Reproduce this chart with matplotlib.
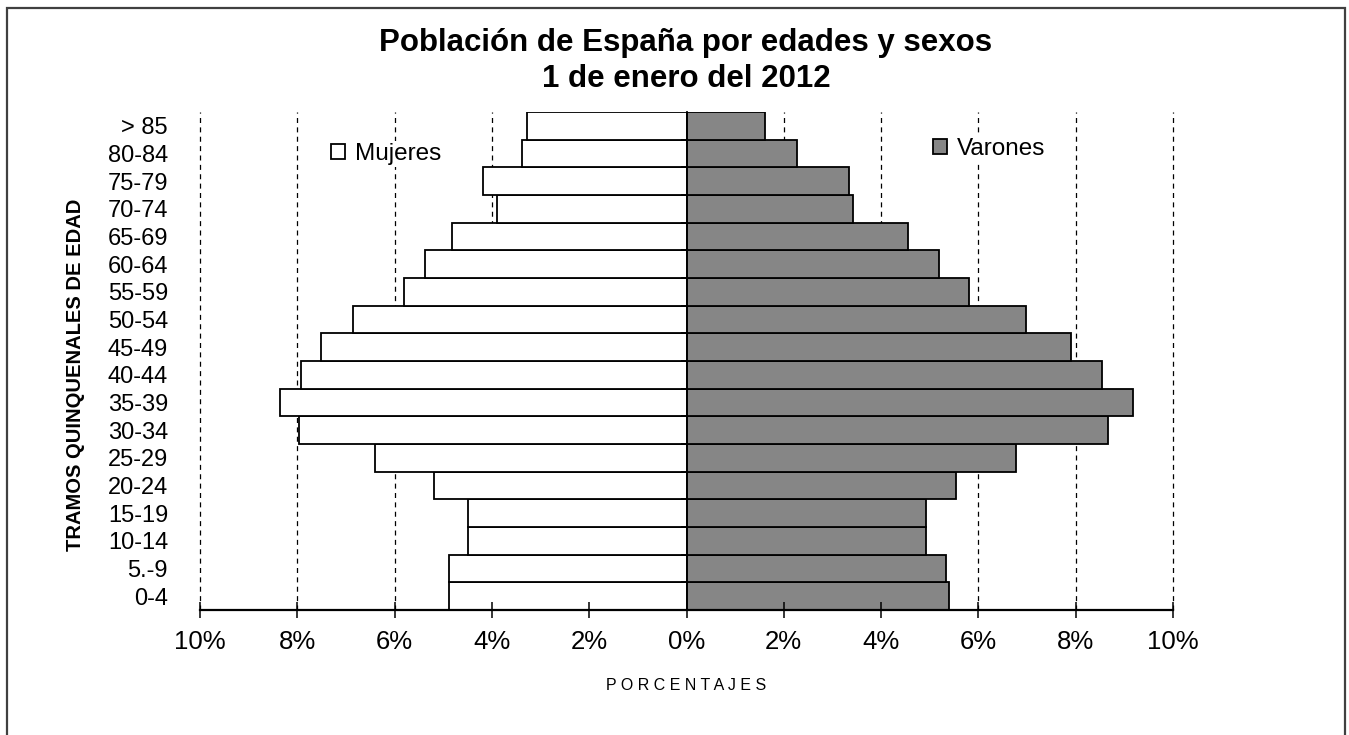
import numpy as np
import matplotlib
matplotlib.use("Agg")
import matplotlib.pyplot as plt
from matplotlib.patches import Rectangle

plt.rcParams["font.family"] = ["Liberation Sans", "DejaVu Sans"]

# age groups, bottom to top
groups = ["0-4", "5.-9", "10-14", "15-19", "20-24", "25-29", "30-34", "35-39",
          "40-44", "45-49", "50-54", "55-59", "60-64", "65-69", "70-74",
          "75-79", "80-84", "> 85"]
# percentages
mujeres = [4.89, 4.89, 4.50, 4.50, 5.20, 6.41, 7.97, 8.36, 7.93, 7.52, 6.86,
           5.81, 5.38, 4.83, 3.90, 4.19, 3.39, 3.27]
varones = [5.40, 5.34, 4.93, 4.93, 5.54, 6.78, 8.67, 9.18, 8.54, 7.91, 6.98,
           5.81, 5.20, 4.56, 3.43, 3.33, 2.28, 1.62]
xticks = [-10, -8, -6, -4, -2, 0, 2, 4, 6, 8, 10]

W, H = 1349, 735
fig = plt.figure(figsize=(W / 100, H / 100), dpi=100)
ax = fig.add_axes([200 / W, (H - 610) / H, (1173 - 200) / W, (610 - 112) / H])

ypos = np.arange(len(groups))

# dashed vertical grid, every 2% except zero
for v in xticks:
    if v != 0:
        ax.axvline(v, color="black", lw=0.9, ls=(0, (4, 3.5)), zorder=0,
                   clip_on=False)

bm = ax.barh(ypos, -np.array(mujeres), height=1.0, color="white",
             edgecolor="black", lw=1.3, label="Mujeres", zorder=1)
bv = ax.barh(ypos, varones, height=1.0, color="#868686",
             edgecolor="black", lw=1.3, label="Varones", zorder=1)

ax.set_xlim(-10, 10)
ax.set_ylim(-0.5, len(groups) - 0.5)

# x axis
ax.spines["top"].set_visible(False)
ax.spines["right"].set_visible(False)
ax.spines["bottom"].set_linewidth(1.6)
ax.set_xticks(xticks)
ax.set_xticklabels([f"{abs(v)}%" for v in xticks], fontsize=18.5)
ax.tick_params(axis="x", direction="inout", length=11.5, width=1.1, pad=9)

# vertical axis at zero with ticks at category boundaries
ax.spines["left"].set_position(("data", 0))
ax.spines["left"].set_linewidth(1.3)
ax.set_yticks(np.arange(-0.5, len(groups) - 0.5, 1.0))
ax.set_yticklabels([])
ax.tick_params(axis="y", direction="out", length=4.5, width=1.1)

# category labels on the left edge
sec = ax.secondary_yaxis("left")
sec.spines["left"].set_visible(False)
sec.set_yticks(ypos)
sec.set_yticklabels(groups, fontsize=17)
sec.tick_params(axis="y", length=0, pad=23)

# legends
for handle, xl, yl in [(bm, 329, 154), (bv, 931, 149)]:
    leg = ax.legend(handles=[handle], loc="center left",
                    bbox_to_anchor=(xl / W, 1 - yl / H),
                    bbox_transform=fig.transFigure, fontsize=17.5,
                    frameon=True, facecolor="white", edgecolor="none",
                    framealpha=1, fancybox=False, borderpad=0.1,
                    borderaxespad=0, handlelength=0.55, handleheight=0.55,
                    handletextpad=0.4)
    ax.add_artist(leg)

fig.text(686 / W, 1 - 61 / H, "Población de España por edades y sexos\n1 de enero del 2012",
         ha="center", va="center", fontsize=22.5, fontweight="bold",
         linespacing=1.25)
fig.text(686 / W, 1 - 686 / H, "P O R C E N T A J E S", ha="center",
         va="center", fontsize=11.5)
fig.text(76 / W, 1 - 375 / H, "TRAMOS QUINQUENALES DE EDAD", ha="center",
         va="center", rotation=90, fontsize=14.5, fontweight="bold")

# outer frame
fig.patches.append(Rectangle((7 / W, -0.1), (1345 - 7) / W, 1.1 - 8 / H,
                             transform=fig.transFigure, fill=False,
                             edgecolor="#404040", lw=1.6, clip_on=False))

fig.savefig("out.png", dpi=100)
